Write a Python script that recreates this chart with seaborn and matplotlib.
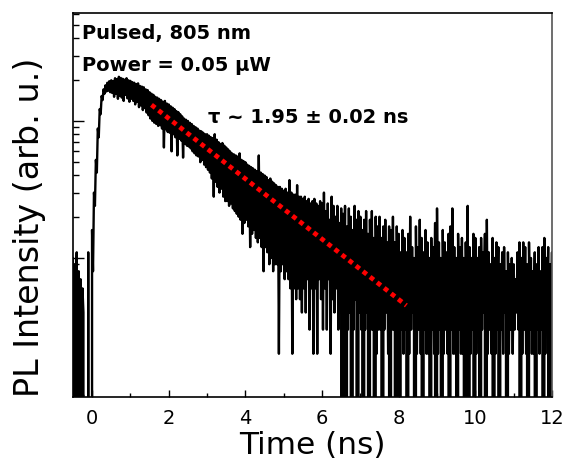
import numpy as np
import matplotlib
matplotlib.use("Agg")
import matplotlib.pyplot as plt
import seaborn as sns
from matplotlib.ticker import MultipleLocator, LogLocator, NullFormatter

# --- data: per 0.05 ns bin, highest and lowest count ---
t_start = -0.5
t_step = 0.05

hi_pre = [10, 9, 11, 8, 7, 6, 0, 0, 11, 0]
lo_pre = [0, 3, 0, 2, 0, 4, 0, 0, 0, 0]

hi_0 = [16, 30, 52, 88, 122, 152, 170, 182, 190, 195, 198, 196, 205, 202, 210, 206, 203, 200, 205, 198]
lo_0 = [8, 24, 42, 76, 112, 142, 158, 164, 166, 162, 160, 150, 158, 145, 152, 148, 140, 155, 146, 138]
hi_1 = [196, 192, 190, 186, 188, 180, 178, 176, 170, 168, 162, 158, 155, 150, 148, 145, 142, 138, 140, 134]
lo_1 = [145, 140, 132, 138, 126, 130, 120, 124, 115, 110, 104, 100, 97, 95, 92, 93, 88, 64, 87, 83]
hi_2 = [132, 128, 125, 122, 118, 116, 112, 108, 104, 102, 100, 97, 95, 92, 90, 88, 85, 84, 82, 80]
lo_2 = [82, 60, 80, 76, 56, 74, 72, 54, 68, 66, 65, 63, 60, 58, 56, 55, 50, 52, 48, 46]
hi_3 = [80, 78, 76, 75, 80, 73, 70, 68, 69, 66, 64, 62, 60, 58, 57, 56, 55, 58, 52, 51]
lo_3 = [44, 42, 38, 28, 36, 33, 30, 32, 28, 26, 26, 24, 25, 23, 22, 21, 20, 19, 15, 18]
hi_4 = [50, 48, 47, 46, 45, 44, 43, 56, 42, 41, 40, 39, 37, 38, 36, 35, 34, 33, 33, 32]
lo_4 = [19, 17, 12, 15, 16, 14, 13, 14, 12, 8, 12, 11, 9, 10, 8, 9, 9, 2, 8, 9]
hi_5 = [31, 32, 30, 37, 30, 29, 29, 34, 28, 28, 27, 28, 26, 27, 25, 26, 27, 25, 24, 26]
lo_5 = [7, 8, 7, 6, 2, 6, 5, 6, 5, 4, 6, 4, 7, 3, 6, 2, 6, 2, 7, 5]
hi_6 = [25, 30, 22, 25, 19, 28, 24, 20, 24, 18, 23, 21, 24, 17, 23, 20, 16, 24, 19, 22]
lo_6 = [3, 6, 3, 7, 2, 5, 4, 6, 3, 4, 0, 3, 0, 3, 4, 0, 3, 5, 0, 4]
hi_7 = [20, 16, 19, 22, 15, 19, 22, 14, 20, 17, 20, 14, 17, 19, 13, 17, 16, 20, 13, 17]
lo_7 = [3, 0, 3, 4, 0, 3, 3, 0, 2, 3, 3, 0, 3, 4, 2, 0, 3, 3, 0, 2]
hi_8 = [15, 11, 16, 14, 11, 15, 20, 12, 10, 17, 12, 19, 14, 11, 16, 13, 10, 14, 12, 18]
lo_8 = [0, 3, 2, 3, 0, 2, 3, 4, 0, 2, 3, 2, 0, 3, 2, 2, 0, 3, 2, 0]
hi_9 = [23, 13, 10, 16, 13, 11, 15, 17, 23, 12, 10, 15, 12, 14, 10, 13, 24, 12, 10, 15]
lo_9 = [2, 3, 0, 2, 3, 2, 0, 3, 2, 2, 0, 3, 2, 2, 0, 3, 0, 2, 3, 0]
hi_10 = [14, 10, 12, 14, 11, 15, 19, 11, 9, 14, 10, 13, 12, 9, 11, 12, 8, 11, 9, 10]
lo_10 = [2, 3, 0, 3, 4, 0, 2, 3, 2, 0, 2, 3, 0, 3, 2, 4, 0, 2, 3, 2]
hi_11 = [9, 7, 11, 13, 10, 13, 12, 9, 13, 10, 8, 11, 9, 12, 8, 12, 14, 10, 12, 9, 11]
lo_11 = [3, 4, 3, 0, 2, 3, 2, 0, 3, 2, 2, 0, 3, 2, 3, 0, 2, 3, 0, 2, 0]

# mono-exponential fit (tau ~ 1.95 ns), end points
fit_t = [1.55, 8.2]
fit_counts = [131, 4.5]

hi = np.array(hi_pre + hi_0 + hi_1 + hi_2 + hi_3 + hi_4 + hi_5 + hi_6
              + hi_7 + hi_8 + hi_9 + hi_10 + hi_11, dtype=float)
lo = np.array(lo_pre + lo_0 + lo_1 + lo_2 + lo_3 + lo_4 + lo_5 + lo_6
              + lo_7 + lo_8 + lo_9 + lo_10 + lo_11, dtype=float)
t_bin = t_start + t_step * np.arange(len(hi))

# trace: high then low sample inside every bin
t = np.column_stack([t_bin, t_bin + t_step / 2]).ravel()
counts = np.column_stack([hi, lo]).ravel()

sns.set_style("ticks", {'text.color': 'black', 'axes.labelcolor': 'black',
                        'xtick.color': 'black', 'ytick.color': 'black',
                        'axes.edgecolor': 'black'})
plt.rcParams['font.family'] = ['DejaVu Sans']

fig = plt.figure(figsize=(5.65, 4.77), dpi=100)
ax = fig.add_axes([0.129, 0.166, 0.848, 0.805])

sns.lineplot(x=t, y=counts, ax=ax, color='black', linewidth=1.7, sort=False, estimator=None)
sns.lineplot(x=fit_t, y=fit_counts, ax=ax, color='#ff0000', linewidth=3.4,
             dashes=False, sort=False, estimator=None)
ax.lines[-1].set_dashes((1, 0.9))

ax.set_yscale('log')
ax.set_xlim(-0.5, 12)
ax.set_ylim(0.97, 615)

ax.xaxis.set_major_locator(MultipleLocator(2))
ax.xaxis.set_minor_locator(MultipleLocator(1))
ax.yaxis.set_major_locator(LogLocator(base=10))
ax.yaxis.set_minor_locator(LogLocator(base=10, subs=np.arange(2, 10)))
ax.yaxis.set_major_formatter(NullFormatter())
ax.yaxis.set_minor_formatter(NullFormatter())

ax.tick_params(axis='both', which='both', direction='in', top=False, right=False)
ax.tick_params(axis='x', which='major', length=5, width=1, labelsize=14, pad=8)
ax.tick_params(axis='x', which='minor', length=3, width=1)
ax.tick_params(axis='y', which='major', length=8, width=1)
ax.tick_params(axis='y', which='minor', length=4, width=1)

for s in ax.spines.values():
    s.set_linewidth(1.2)
ax.spines['right'].set_color('#555555')

ax.set_xlabel('Time (ns)', fontsize=22.5)
ax.set_ylabel('PL Intensity (arb. u.)', fontsize=24)
ax.xaxis.set_label_coords(0.5, -0.086)
ax.yaxis.set_label_coords(-0.056, 0.443)

ax.text(0.019, 0.935, 'Pulsed, 805 nm', transform=ax.transAxes,
        fontsize=14, fontweight='bold', va='baseline')
ax.text(0.019, 0.852, 'Power = 0.05 \u03bcW', transform=ax.transAxes,
        fontsize=14, fontweight='bold', va='baseline')
ax.text(0.282, 0.715, '\u03c4 ~ 1.95 \u00b1 0.02 ns', transform=ax.transAxes,
        fontsize=14, fontweight='bold', va='baseline')

fig.savefig('out.png', dpi=100)
